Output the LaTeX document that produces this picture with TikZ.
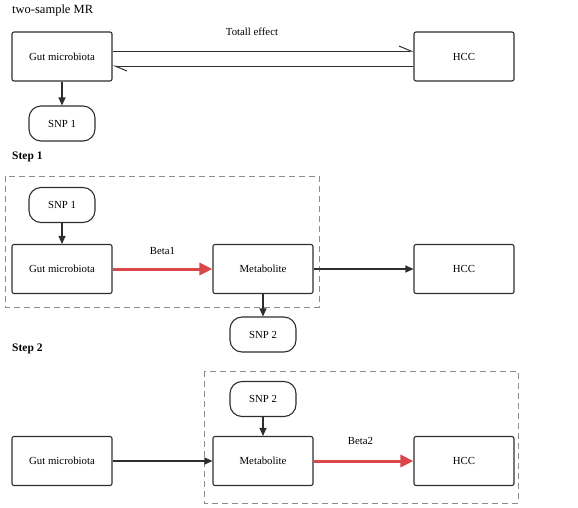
\documentclass[tikz,border=0pt]{standalone}
\usepackage{fontspec}
\setmainfont{Liberation Serif}
\usetikzlibrary{positioning,arrows.meta}
\definecolor{linegray}{HTML}{2E2E2E}
\definecolor{betared}{HTML}{D9474A}
\definecolor{dashgray}{HTML}{8C8C8C}
\tikzset{box node/.style={rectangle,rounded corners=2pt,draw=linegray,line width=1.1pt,minimum width=100pt,minimum height=49pt,inner sep=0pt,font=\fontsize{10.8}{12}\selectfont},
snp node/.style={rectangle,rounded corners=12pt,draw=linegray,line width=1.1pt,minimum width=66pt,minimum height=35pt,inner sep=0pt,font=\fontsize{10.8}{12}\selectfont},
step node/.style={anchor=west,inner sep=0pt,font=\fontsize{11.5}{13}\selectfont\bfseries},
black arrow/.style={draw=linegray,line width=1.1pt,-{Triangle[length=8pt,width=7pt]}},
red arrow/.style={draw=betared,line width=3pt,-{Triangle[length=13pt,width=12pt]}},
half arrow/.style={draw=linegray,line width=1pt,-{Straight Barb[harpoon,length=12pt,width=10pt]}},
dash box/.style={draw=dashgray,line width=1pt,dash pattern=on 6pt off 4pt},
edge label/.style={font=\fontsize{10.8}{12}\selectfont,inner sep=0pt}
}
\begin{document}
\begin{tikzpicture}[x=1pt,y=-1pt]
\useasboundingbox (0,0) rectangle (578,507);
\begin{scope}[on grid]

  % two-sample MR
  \node[step node,font=\fontsize{12.5}{15}\selectfont] (t0) at (12,10) {two-sample MR};
  \node[box node] (g1) at (62,56.5) {Gut microbiota};
  \node[box node] (h1) [right =402pt of g1] {HCC};
  \node[snp node] (s1) [below =67pt of g1] {SNP 1};

  % step 1
  \node[step node] (t1) at (12,157) {Step 1};
  \node[box node] (g2) [below =212.5pt of g1] {Gut microbiota};
  \node[box node] (m2) [right =201pt of g2] {Metabolite};
  \node[box node] (h2) [right =201pt of m2] {HCC};
  \node[snp node] (s2) [above =64pt of g2] {SNP 1};
  \node[snp node] (s3) [below =65.5pt of m2] {SNP 2};

  % step 2
  \node[step node] (t2) at (12,349) {Step 2};
  \node[box node] (g3) [below =192pt of g2] {Gut microbiota};
  \node[box node] (m3) [right =201pt of g3] {Metabolite};
  \node[box node] (h3) [right =201pt of m3] {HCC};
  \node[snp node] (s4) [above =62pt of m3] {SNP 2};

  \draw[dash box] (5,176) rectangle (319,307);
  \draw[dash box] (204,371) rectangle (518,503);

  \draw[half arrow] ([yshift=5.5pt]g1.east) -- node[edge label,above=15pt,xshift=-11pt] {Totall effect} ([yshift=5.5pt]h1.west);
  \draw[half arrow] ([yshift=-9.5pt]h1.west) -- ([yshift=-9.5pt]g1.east);
  \draw[black arrow] (g1) -- (s1);

  \draw[black arrow] (s2) -- (g2);
  \draw[red arrow] (g2) -- node[edge label,above=13pt] {Beta1} (m2);
  \draw[black arrow] (m2) -- (h2);
  \draw[black arrow] (m2) -- (s3);

  \draw[black arrow] (g3) -- (m3);
  \draw[black arrow] (s4) -- (m3);
  \draw[red arrow] (m3) -- node[edge label,above=15pt,xshift=-3pt] {Beta2} (h3);

\end{scope}
\end{tikzpicture}
\end{document}
